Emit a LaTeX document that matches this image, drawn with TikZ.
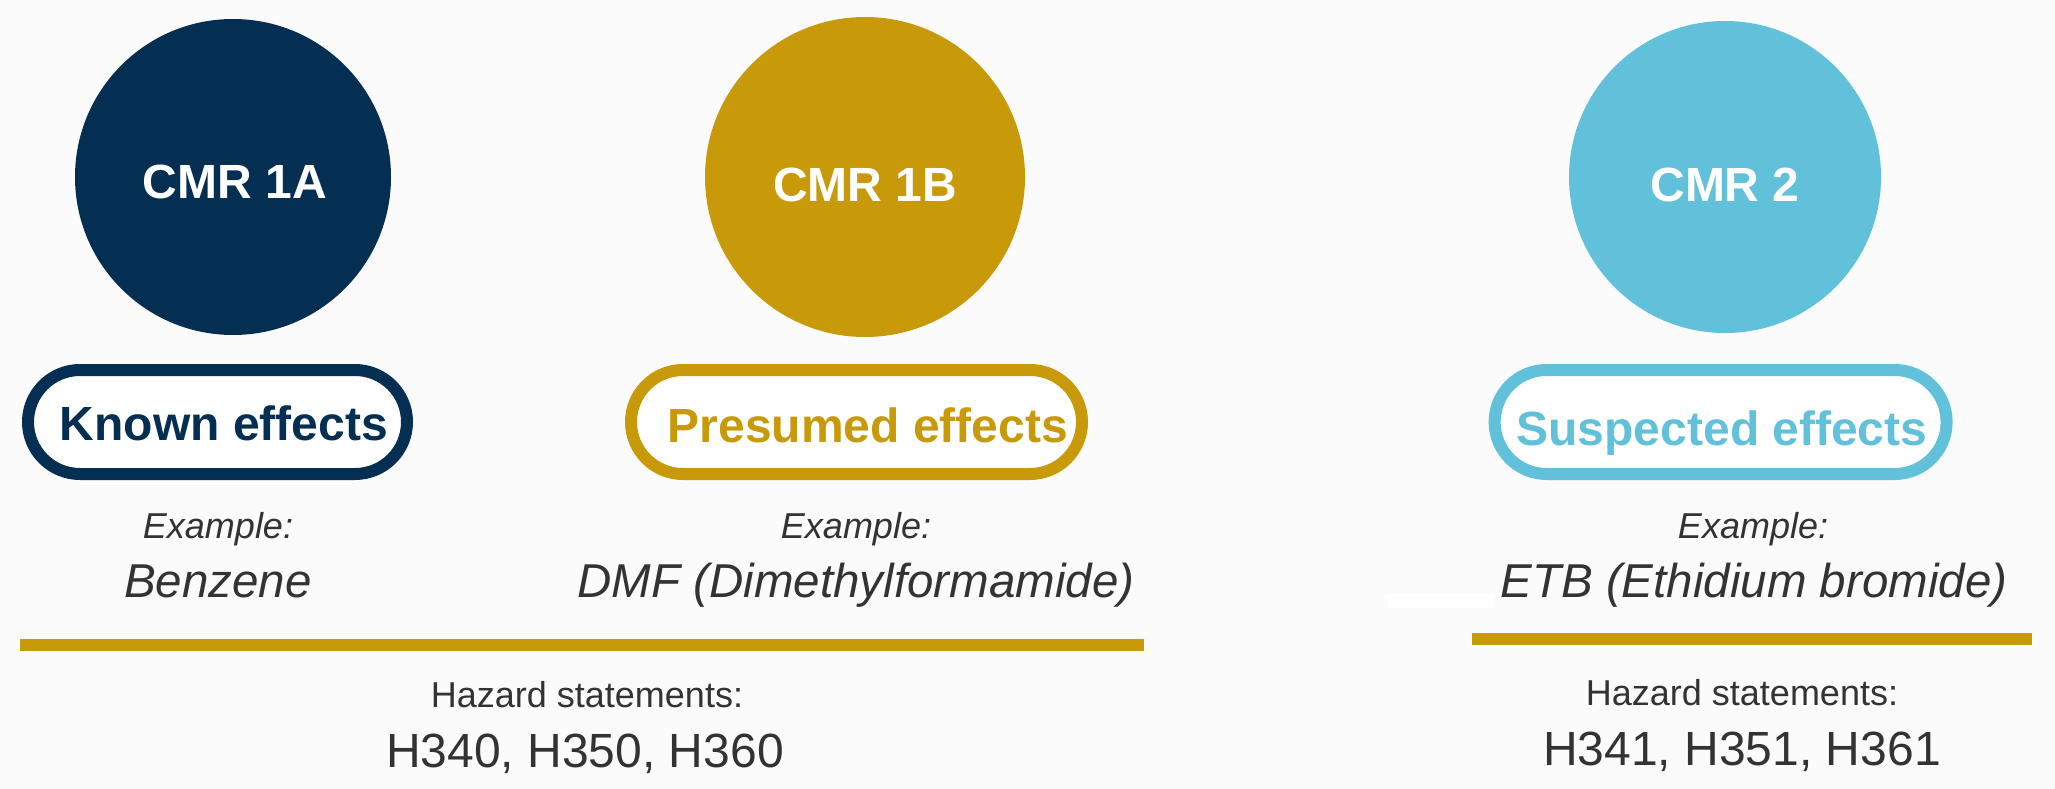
\documentclass[tikz,border=0pt]{standalone}
\usepackage{fontspec}
\setmainfont{Liberation Sans}
\definecolor{bgc}{HTML}{FBFBFB}
\definecolor{navy}{HTML}{042F52}
\definecolor{gold}{HTML}{C89A0A}
\definecolor{sky}{HTML}{61C1DB}
\definecolor{txt}{HTML}{333333}
\tikzset{
  x=1pt, y=-1pt,
  disc/.style={circle, fill=#1, draw=none, inner sep=0pt},
  pill/.style={draw=#1, line width=12pt, fill=white, rounded corners=52pt, inner sep=0pt, minimum height=104pt},
  bigbold/.style={anchor=base, inner sep=0pt, font=\fontsize{48}{56}\selectfont\bfseries},
  exlabel/.style={anchor=base, inner sep=0pt, text=txt, font=\fontsize{36}{42}\selectfont\itshape},
  exname/.style={anchor=base, inner sep=0pt, text=txt, font=\fontsize{47.5}{56}\selectfont\itshape},
  hzlabel/.style={anchor=base, inner sep=0pt, text=txt, font=\fontsize{36}{42}\selectfont},
  hzcodes/.style={anchor=base, inner sep=0pt, text=txt, font=\fontsize{48}{56}\selectfont},
  rule/.style={draw=gold, line width=12pt, line cap=butt}
}
\begin{document}
\begin{tikzpicture}
\fill[bgc] (0,0) rectangle (2055,789);
\useasboundingbox (0,0) rectangle (2055,789);

% circles
\node[disc=navy, minimum size=316pt] (c1) at (233,177) {};
\node[disc=gold, minimum size=320pt] (c2) at (865,177) {};
\node[disc=sky,  minimum size=312pt] (c3) at (1725,177) {};
\node[bigbold, text=white] (t1) at (235,198) {CMR 1A};
\node[bigbold, text=white] (t2) at (865,201) {CMR 1B};
\node[bigbold, text=white] (t3) at (1725,201) {CMR 2};

% pills
\node[pill=navy, minimum width=379pt] (p1) at (217.5,422) {};
\node[pill=gold, minimum width=451pt] (p2) at (856.5,422) {};
\node[pill=sky,  minimum width=452pt] (p3) at (1720.6,422) {};
\node[bigbold, text=navy] (k1) at (224,440) {Known effects};
\node[bigbold, text=gold] (k2) at (868,442) {Presumed effects};
\node[bigbold, text=sky]  (k3) at (1722,445) {Suspected effects};

% examples
\node[exlabel] (e1) at (218,538) {Example:};
\node[exlabel] (e2) at (856,538) {Example:};
\node[exlabel] (e3) at (1753,538) {Example:};
\node[exname] (n1) at (218,597) {Benzene};
\node[exname] (n2) at (856,597) {DMF (Dimethylformamide)};
\node[exname] (n3) at (1754,597) {ETB (Ethidium bromide)};

% small white patch
\fill[white] (1388,594) rectangle (1494,608);

% rules
\coordinate (r1a) at (20,645);
\coordinate (r1b) at (1144,645);
\coordinate (r2a) at (1472,639);
\coordinate (r2b) at (2032,639);
\draw[rule] (r1a) -- (r1b);
\draw[rule] (r2a) -- (r2b);

% hazard statements
\node[hzlabel] (h1) at (587,707) {Hazard statements:};
\node[hzcodes] (h2) at (585,767) {H340, H350, H360};
\node[hzlabel] (h3) at (1742,705) {Hazard statements:};
\node[hzcodes] (h4) at (1742,765) {H341, H351, H361};
\end{tikzpicture}
\end{document}
